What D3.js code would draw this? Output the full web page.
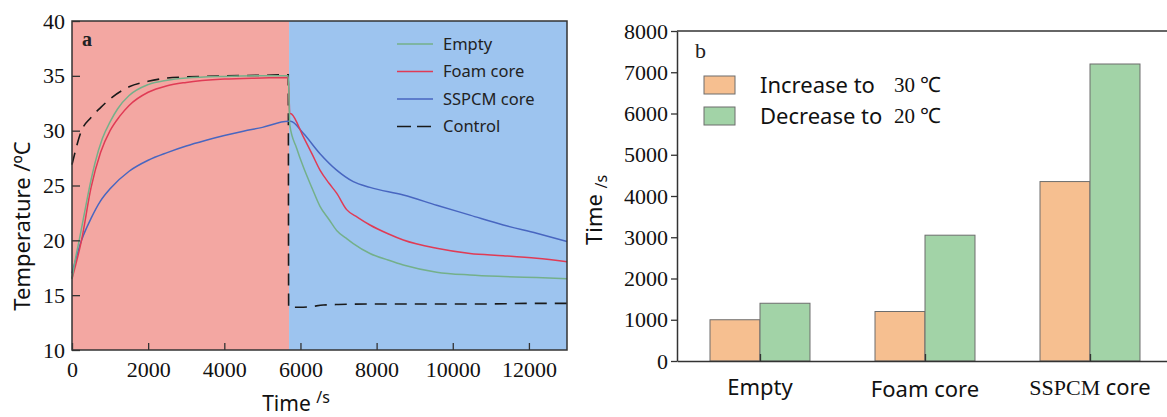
<!DOCTYPE html>
<html>
<head>
<meta charset="utf-8">
<script src="https://cdn.jsdelivr.net/npm/d3@7"></script>
<style>
  body { margin: 0; background: #fff; }
  svg { display: block; }
</style>
</head>
<body>
<div id="svgCanvas"></div>
<script>
// ---- data (panel a: temperature curves) ----
const heatEnd = 5700

const emptyTime = [0, 100, 200, 300, 400, 500, 600, 800, 1000, 1200, 1500, 2000, 2500, 3000, 4000, 5000, 5680,
    5720, 5900, 6074, 6300, 6513, 6750, 6950, 7200, 7388, 7826, 8300, 8701, 9577, 10452, 11326, 12203, 13000]
const emptyTemp = [16.5, 18.5, 20.2, 22, 23.8, 25.5, 27, 29.3, 30.8, 32, 33.2, 34.2, 34.6, 34.8, 34.95, 35.0, 35.0,
    30.5, 28.4, 26.7, 24.8, 23.1, 21.9, 20.9, 20.2, 19.7, 18.8, 18.2, 17.75, 17.1, 16.84, 16.7, 16.6, 16.5]

const foamTime = [0, 250, 500, 750, 1000, 1250, 1500, 2000, 2500, 3000, 4000, 5000, 5680,
    5720, 5770, 6074, 6300, 6513, 6750, 6950, 7213, 7500, 7826, 8300, 8701, 9577, 10452, 11326, 12203, 13000]
const foamTemp = [16.5, 20, 24.8, 28, 30, 31.3, 32.3, 33.5, 34.1, 34.4, 34.7, 34.8, 34.85,
    31.6, 31.5, 29.45, 27.9, 26.4, 25.2, 24.3, 22.8, 22.1, 21.4, 20.6, 20.03, 19.27, 18.8, 18.6, 18.36, 18.05]

const sspcmTime = [0, 250, 500, 750, 1000, 1500, 2000, 2500, 3000, 3500, 4000, 4500, 5000, 5680,
    5740, 6074, 6513, 6950, 7388, 7826, 8701, 9577, 10452, 11326, 12203, 13000]
const sspcmTemp = [17, 20, 22, 23.6, 24.7, 26.3, 27.3, 28, 28.6, 29.1, 29.55, 29.95, 30.3, 30.85,
    30.85, 29.76, 27.9, 26.4, 25.35, 24.83, 24.13, 23.2, 22.3, 21.4, 20.64, 19.9]

const controlTime = [0, 250, 500, 750, 1000, 1500, 2000, 2500, 3000, 4000, 5000, 5680,
    5690, 6000, 6250, 6600, 7000, 7825, 9000, 10000, 11000, 12000, 13000]
const controlTemp = [26.9, 30, 31.2, 32.1, 32.9, 34.0, 34.5, 34.8, 34.9, 35.0, 35.05, 35.1,
    13.9, 13.9, 13.95, 14.1, 14.15, 14.2, 14.2, 14.2, 14.2, 14.25, 14.25]

const seriesNames = ["Empty", "Foam core", "SSPCM core", "Control"]
const tempTicks = [10, 15, 20, 25, 30, 35, 40]
const timeTicks = [0, 2000, 4000, 6000, 8000, 10000, 12000]

// ---- data (panel b: bars) ----
const categories = ["Empty", "Foam core", "SSPCM core"]
const increaseTo30 = [1000, 1200, 4350]
const decreaseTo20 = [1400, 3050, 7200]
const barTicks = [0, 1000, 2000, 3000, 4000, 5000, 6000, 7000, 8000]

const serif = "'Liberation Serif', 'Times New Roman', serif"
const sans = "'Noto Sans', 'Open Sans', sans-serif"

const width = 1167, height = 417

const svg = d3.select("#svgCanvas").append("svg")
    .attr("xmlns", "http://www.w3.org/2000/svg")
    .attr("width", width)
    .attr("height", height)

function styleTicks(ax) {
    ax.attr("font-family", serif).attr("font-size", 22)
    ax.selectAll("line").attr("stroke", "#333").attr("stroke-width", 1.3)
    ax.selectAll("text")
        .style("font-family", serif)
        .style("font-size", "22px")
        .attr("fill", "#111")
}

// =================== panel a ===================
const xT = d3.scaleLinear().domain([0, 13000]).range([72, 567])
const yT = d3.scaleLinear().domain([10, 40]).range([350, 21])

const gA = svg.append("g")

gA.append("rect")
    .attr("x", xT(0)).attr("y", yT(40))
    .attr("width", xT(heatEnd) - xT(0)).attr("height", yT(10) - yT(40))
    .attr("fill", "#f3a7a2")
gA.append("rect")
    .attr("x", xT(heatEnd)).attr("y", yT(40))
    .attr("width", xT(13000) - xT(heatEnd)).attr("height", yT(10) - yT(40))
    .attr("fill", "#9dc4ef")

function toPoints(ts, vs) {
    return ts.map((t, i) => ({"x": t, "y": vs[i]}))
}

const line = d3.line()
    .x(d => xT(d.x))
    .y(d => yT(d.y))
    .curve(d3.curveMonotoneX)

const curves = [
    {name: "Empty", pts: toPoints(emptyTime, emptyTemp), color: "#74b08a", dash: null},
    {name: "Foam core", pts: toPoints(foamTime, foamTemp), color: "#e03b55", dash: null},
    {name: "SSPCM core", pts: toPoints(sspcmTime, sspcmTemp), color: "#4866c0", dash: null},
    {name: "Control", pts: toPoints(controlTime, controlTemp), color: "#1a1a1a", dash: "12,8"}
]

// draw control first so coloured lines sit on top
curves.slice().reverse().forEach(c => {
    gA.append("path")
        .attr("d", line(c.pts))
        .attr("fill", "none")
        .attr("stroke", c.color)
        .attr("stroke-width", c.dash ? 1.6 : 1.5)
        .attr("stroke-dasharray", c.dash)
})

// axes (ticks point inward)
const axA_left = gA.append("g")
    .attr("transform", "translate(" + xT(0) + ",0)")
    .call(d3.axisLeft(yT).tickValues(tempTicks).tickFormat(d3.format("d"))
        .tickSizeInner(-8).tickSizeOuter(0).tickPadding(7))
const axA_bottom = gA.append("g")
    .attr("transform", "translate(0," + yT(10) + ")")
    .call(d3.axisBottom(xT).tickValues(timeTicks).tickFormat(d3.format("d"))
        .tickSizeInner(-7).tickSizeOuter(0).tickPadding(11))

;[axA_left, axA_bottom].forEach(ax => {
    ax.select(".domain").remove()
    styleTicks(ax)
})

gA.append("rect")
    .attr("x", xT(0)).attr("y", yT(40))
    .attr("width", xT(13000) - xT(0)).attr("height", yT(10) - yT(40))
    .attr("fill", "none").attr("stroke", "#333").attr("stroke-width", 1.5)

gA.append("text")
    .attr("x", 82).attr("y", 46)
    .attr("font-family", serif).attr("font-size", 20).attr("font-weight", "bold")
    .attr("fill", "#222")
    .text("a")

// legend
const legA = gA.append("g")
seriesNames.forEach((name, i) => {
    const c = curves[i]
    const y = 44 + i * 27.5
    legA.append("line")
        .attr("x1", 397).attr("x2", 433).attr("y1", y).attr("y2", y)
        .attr("stroke", c.color).attr("stroke-width", 1.5)
        .attr("stroke-dasharray", c.dash ? "14,6" : null)
    legA.append("text")
        .attr("x", 443).attr("y", y).attr("dy", "0.35em")
        .attr("font-family", sans).attr("font-size", 16.5).attr("fill", "#222")
        .text(name)
})

// axis titles
const xTitleA = gA.append("text")
    .attr("x", 296).attr("y", 411)
    .attr("text-anchor", "middle")
    .attr("font-family", sans).attr("font-size", 21).attr("fill", "#111")
xTitleA.append("tspan").text("Time ")
xTitleA.append("tspan").attr("font-size", 16).attr("dy", -8).text("/s")

gA.append("text")
    .attr("transform", "translate(30,226) rotate(-90)")
    .attr("text-anchor", "middle")
    .attr("font-family", sans).attr("font-size", 22).attr("fill", "#111")
    .text("Temperature /ºC")

// =================== panel b ===================
const xB = d3.scaleBand().domain(categories).range([677, 1173]).paddingInner(0.394).paddingOuter(0.2)
const yB = d3.scaleLinear().domain([0, 8000]).range([361, 31])
const half = xB.bandwidth() / 2

const gB = svg.append("g")

const barSeries = [
    {label: "Increase to", temp: "30 ℃", values: increaseTo30, fill: "#f6bf90", off: 0},
    {label: "Decrease to", temp: "20 ℃", values: decreaseTo20, fill: "#a2d3a7", off: half}
]

barSeries.forEach(s => {
    gB.selectAll(null)
        .data(categories)
        .enter().append("rect")
        .attr("x", d => xB(d) + s.off)
        .attr("y", (d, i) => yB(s.values[i]))
        .attr("width", half)
        .attr("height", (d, i) => yB(0) - yB(s.values[i]))
        .attr("fill", s.fill)
        .attr("stroke", "#6d6d6d")
        .attr("stroke-width", 1)
})

const axB_left = gB.append("g")
    .attr("transform", "translate(677,0)")
    .call(d3.axisLeft(yB).tickValues(barTicks).tickFormat(d3.format("d"))
        .tickSizeInner(6).tickSizeOuter(0).tickPadding(3))
styleTicks(axB_left)
axB_left.select(".domain").attr("stroke", "#333").attr("stroke-width", 1.5)

const axB_bottom = gB.append("g")
    .attr("transform", "translate(0," + yB(0) + ")")
    .call(d3.axisBottom(d3.scaleLinear().range([677, 1173]).domain([677, 1173]))
        .tickValues(categories.map(c => xB(c) + half)).tickSizeInner(-7).tickSizeOuter(0).tickFormat(""))
axB_bottom.select(".domain").attr("stroke", "#333").attr("stroke-width", 1.5)
axB_bottom.selectAll("line").attr("stroke", "#333").attr("stroke-width", 1.3)

// top frame
gB.append("line")
    .attr("x1", 677).attr("x2", 1173).attr("y1", yB(8000)).attr("y2", yB(8000))
    .attr("stroke", "#333").attr("stroke-width", 1.5)

// category labels ("SSPCM" is set in serif in the original)
categories.forEach((c, i) => {
    const t = gB.append("text")
        .attr("x", xB(c) + half).attr("y", 395 + (i === 1 ? 2 : 0))
        .attr("text-anchor", "middle")
        .attr("font-family", sans).attr("font-size", 22).attr("fill", "#111")
    if (c.startsWith("SSPCM")) {
        t.append("tspan").attr("font-family", serif).text("SSPCM ")
        t.append("tspan").text(c.replace("SSPCM ", ""))
    } else {
        t.text(c)
    }
})

gB.append("text")
    .attr("x", 695).attr("y", 58)
    .attr("font-family", serif).attr("font-size", 22).attr("fill", "#222")
    .text("b")

// legend
barSeries.forEach((s, i) => {
    const y = 76 + i * 31
    gB.append("rect")
        .attr("x", 704).attr("y", y).attr("width", 31).attr("height", 18)
        .attr("fill", s.fill).attr("stroke", "#6d6d6d").attr("stroke-width", 1)
    gB.append("text")
        .attr("x", 760).attr("y", y + 9).attr("dy", "0.35em")
        .attr("font-family", sans).attr("font-size", 22).attr("fill", "#111")
        .text(s.label)
    gB.append("text")
        .attr("x", 894).attr("y", y + 9).attr("dy", "0.35em")
        .attr("font-family", serif).attr("font-size", 21).attr("fill", "#111")
        .text(s.temp)
})

const yTitleB = gB.append("text")
    .attr("transform", "translate(602,245) rotate(-90)")
    .attr("font-family", sans).attr("font-size", 22).attr("fill", "#111")
yTitleB.append("tspan").text("Time ")
yTitleB.append("tspan").attr("font-size", 16).attr("dy", 5).text("/s")
</script>
</body>
</html>
